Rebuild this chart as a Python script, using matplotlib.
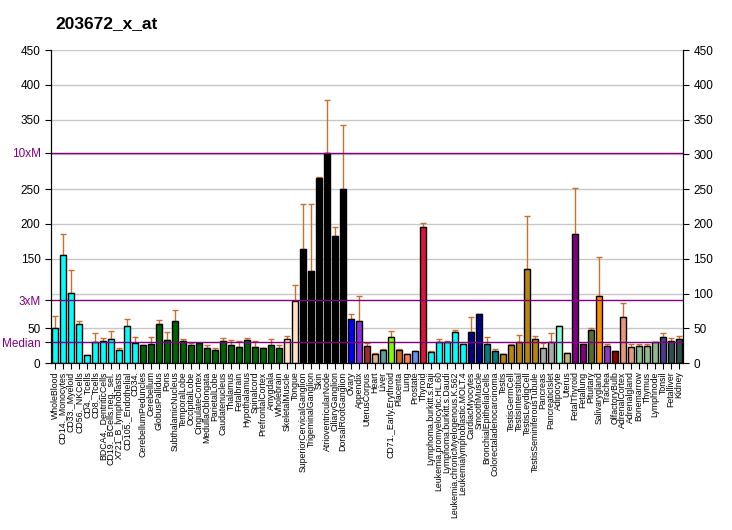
import matplotlib
matplotlib.use('Agg')
import matplotlib.pyplot as plt
from matplotlib import font_manager
import numpy as np

plt.rcParams['font.family'] = ['Liberation Sans', 'DejaVu Sans']

# ----------------------------------------------
#    data
# ----------------------------------------------
labels = ['WholeBlood', 'CD14._Monocytes', 'CD33._Myeloid', 'CD56._NKCells', 'CD4._Tcells',
          'CD8._Tcells', 'BDCA4._DentriticCells', 'CD19._BCells.neg._sel.', 'X721_B_lymphoblasts',
          'CD105._Endothelial', 'CD34.', 'CerebellumPeduncles', 'Cerebellum', 'GlobusPallidus',
          'Pons', 'SubthalamicNucleus', 'TemporalLobe', 'OccipitalLobe', 'CingulateCortex',
          'MedullaOblongata', 'ParietalLobe', 'Caudatenucleus', 'Thalamus', 'Fetalbrain',
          'Hypothalamus', 'Spinalcord', 'PrefrontalCortex', 'Amygdala', 'Wholebrain',
          'SkeletalMuscle', 'Tongue', 'SuperiorCervicalGanglion', 'TrigeminalGanglion', 'Skin',
          'AtrioventricularNode', 'CiliaryGanglion', 'DorsalRootGanglion', 'Ovary', 'Appendix',
          'UterusCorpus', 'Heart', 'Liver', 'CD71._Early.Erythroid', 'Placenta', 'Lung',
          'Prostate', 'Thyroid', 'Lymphoma.burkitt.s.Raji', 'Leukemia.promyelocytic.HL.60',
          'Lymphoma.burkitt.s.Daudi', 'Leukemia.chronicMyelogenous.K.562',
          'Leukemialymphoblastic.MOLT.4', 'CardiacMyocytes', 'SmoothMuscle',
          'BronchialEpithelialCells', 'Colorectaladenocarcinoma', 'Testis', 'TestisGermCell',
          'TestisInterstitial', 'TestisLeydigCell', 'TestisSeminiferousTubule', 'Pancreas',
          'PancreaticIslet', 'Adipocyte', 'Uterus', 'FetalThyroid', 'Fetallung', 'Pituitary',
          'Salivarygland', 'Trachea', 'OlfactoryBulb', 'AdrenalCortex', 'Adrenalgland',
          'Bonemarrow', 'Thymus', 'Lymphnode', 'Tonsil', 'Fetalliver', 'Kidney']

values = [51, 156, 101, 56, 11, 30, 31, 34, 19, 53, 29,
          26, 28, 56, 33, 60, 31, 26, 29, 21, 19, 31, 26, 23, 33, 23, 21, 26, 21,
          34, 89, 164, 132, 266, 302, 183, 250, 64, 61,
          24, 13, 19, 38, 19, 13, 17, 196, 16, 30, 30, 45, 27, 45, 71, 28, 17,
          13, 26, 30, 135, 34, 21, 30, 53, 14, 185, 28, 48, 96, 25, 17, 66, 23,
          25, 25, 30, 37, 31, 34]

err_top = [67, 186, 134, 60, 11, 43, 36, 46, 21, 63, 37,
           26, 37, 62, 44, 76, 34, 29, 29, 26, 21, 36, 33, 31, 36, 31, 22, 34, 26,
           39, 112, 228, 228, 267, 378, 196, 343, 70, 97,
           29, 14, 20, 46, 20, 13, 17, 201, 18, 34, 31, 47, 28, 66, 71, 38, 20,
           13, 28, 40, 212, 39, 29, 43, 53, 15, 251, 28, 50, 152, 27, 17, 86, 27,
           28, 28, 30, 43, 36, 39]

colors = (['#00FFFF'] * 11 + ['#006400'] * 18 + ['#FFE4C4'] * 2 + ['#000000'] * 6 +
          ['#0000FF', '#8A2BE2', '#A52A2A', '#D2B48C', '#5F9EA0', '#7CFC00', '#D2691E',
           '#FF7F50', '#6495ED', '#DC143C'] +
          ['#00FFFF'] * 5 + ['#000080'] * 2 + ['#008080'] * 2 + ['#B8860B'] * 5 +
          ['#A9A9A9'] * 2 + ['#7FFFD4', '#BDB76B', '#800080', '#800080', '#556B2F',
                            '#FF8C00', '#9932CC', '#8B0000', '#E9967A', '#E9967A'] +
          ['#8FBC8F'] * 3 + ['#483D8B', '#2F4F4F', '#2F4F4F'])

median = 30.2
m3 = 90.6
m10 = 302.5

# narrow font for the crowded sample names, if it is there
names = {f.name for f in font_manager.fontManager.ttflist}
lab_font = 'Liberation Sans Narrow' if 'Liberation Sans Narrow' in names else 'Liberation Sans'
lab_size = 7.5 if lab_font == 'Liberation Sans Narrow' else 6.3

fig = plt.figure(figsize=(7.32, 5.30), dpi=100)
ax = fig.add_axes([0.0697, 0.315, 0.8633, 0.5905])

x = np.arange(len(values))
vals = np.array(values)
errs = np.array(err_top) - vals

for g in range(50, 451, 50):
    ax.axhline(g, color='#C8C8C8', linewidth=1, zorder=0)

ax.bar(x, vals, width=0.78, color=colors, edgecolor='black', linewidth=1, zorder=2)
ax.errorbar(x, vals, yerr=[np.zeros_like(errs), errs], fmt='none', ecolor='#C8702F',
            elinewidth=1, capsize=2.5, capthick=1, zorder=1)

for lvl in (median, m3, m10):
    ax.axhline(lvl, color='#800080', linewidth=1, zorder=3)

ax.set_xlim(-0.5, len(values) - 0.5)
ax.set_ylim(0, 450)
ax.spines['top'].set_visible(False)

ytk = [0, median, 50, m3, 150, 200, 250, m10, 350, 400, 450]
ytl = ['0', 'Median', '50', '3xM', '150', '200', '250', '10xM', '350', '400', '450']
ax.set_yticks(ytk)
ax.set_yticklabels(ytl, fontsize=8.5)
for t, s in zip(ax.get_yticklabels(), ytl):
    if not s.isdigit():
        t.set_color('#800080')

ax.set_xticks(x)
ax.set_xticklabels(labels, rotation=90, fontsize=lab_size, family=lab_font)
ax.tick_params(axis='x', length=4, pad=2)
ax.tick_params(axis='y', length=4)

ax2 = ax.twinx()
ax2.set_ylim(0, 450)
ax2.set_yticks(range(0, 451, 50))
ax2.tick_params(axis='y', labelsize=8.5, length=4)
ax2.spines['top'].set_visible(False)

fig.text(0.075, 0.955, '203672_x_at', fontsize=12.5, fontweight='bold', ha='left', va='center')

plt.savefig('out.png', dpi=100)
